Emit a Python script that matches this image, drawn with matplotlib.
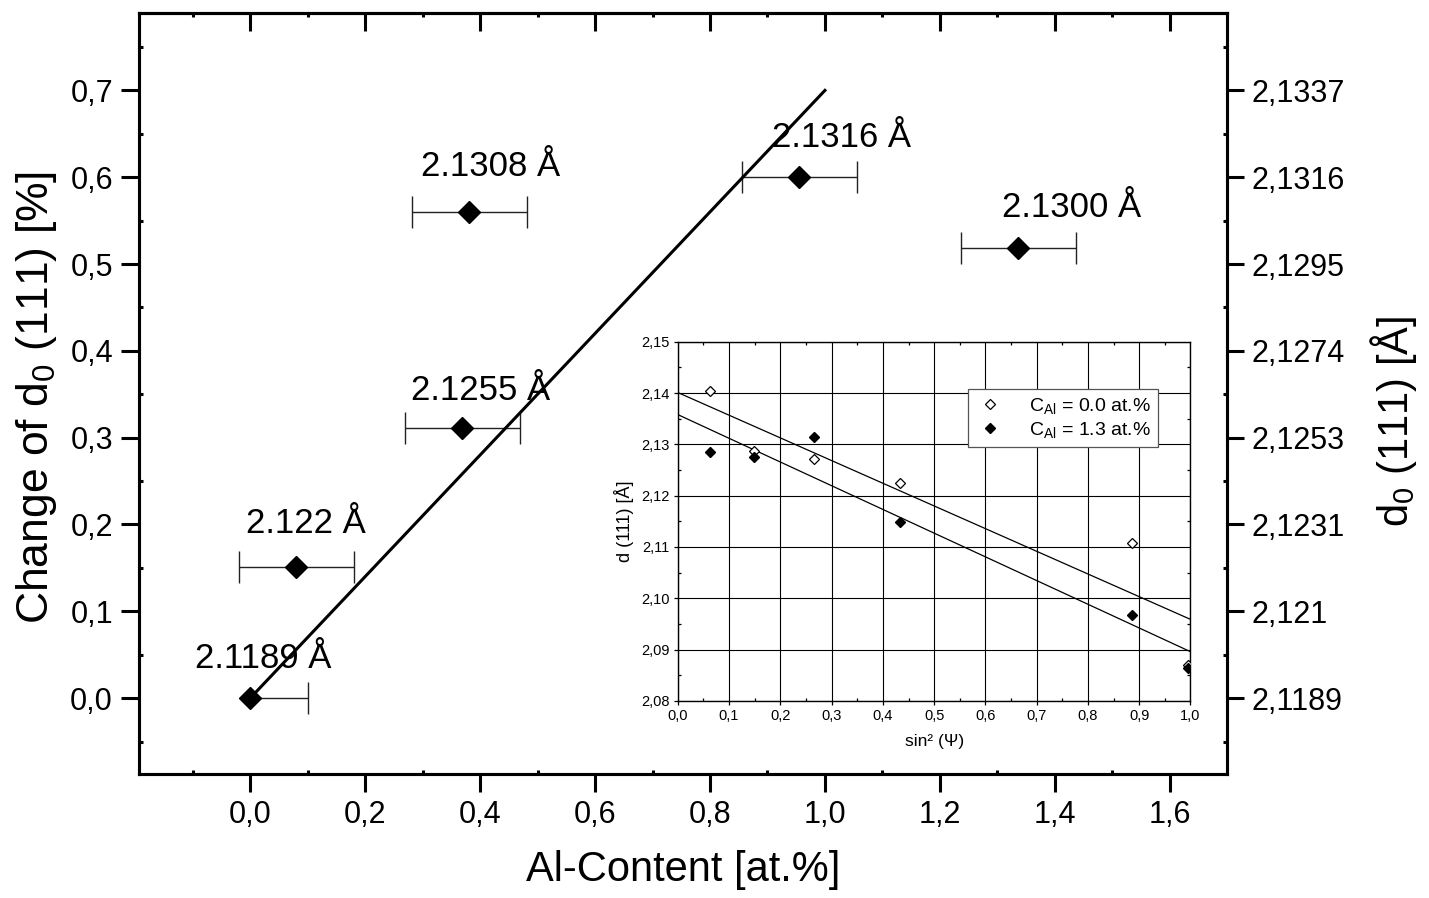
import matplotlib

matplotlib.use("Agg")
import matplotlib.pyplot as plt
from matplotlib.ticker import FuncFormatter, MultipleLocator

plt.rcParams["font.family"] = ["Liberation Sans", "DejaVu Sans"]
plt.rcParams["mathtext.fontset"] = "custom"
plt.rcParams["mathtext.rm"] = "Liberation Sans"
plt.rcParams["mathtext.it"] = "Liberation Sans:italic"

ANG = "\u00c5"

# main panel: Al content vs. change of d0(111)
al_content = [0.0, 0.08, 0.369, 0.381, 0.955, 1.336]
d0_change = [0.0, 0.151, 0.311, 0.56, 0.60, 0.519]
xerr_low = [0.0, 0.1, 0.1, 0.1, 0.1, 0.1]
xerr_high = [0.1, 0.1, 0.1, 0.1, 0.1, 0.1]
fit_x = [0.0, 1.0]
fit_y = [0.0, 0.70]

point_labels = ["2.1189 " + ANG, "2.122 " + ANG, "2.1255 " + ANG,
                "2.1308 " + ANG, "2.1316 " + ANG, "2.1300 " + ANG]
label_x = [0.023, 0.096, 0.40, 0.419, 1.029, 1.43]
label_y = [0.0345, 0.19, 0.343, 0.601, 0.635, 0.554]

y_ticks = [0.0, 0.1, 0.2, 0.3, 0.4, 0.5, 0.6, 0.7]
d0_tick_labels = ["2,1189", "2,121", "2,1231", "2,1253", "2,1274", "2,1295", "2,1316", "2,1337"]

# inset: sin^2(psi) plots
sin2psi = [0.063, 0.149, 0.265, 0.433, 0.886, 0.995]
d_al00 = [2.1404, 2.1288, 2.1271, 2.1225, 2.1107, 2.0870]
d_al13 = [2.1285, 2.1275, 2.1314, 2.1149, 2.0968, 2.0864]
fit_psi = [0.0, 1.0]
fit_al00 = [2.1401, 2.0959]
fit_al13 = [2.1358, 2.0896]

comma1 = FuncFormatter(lambda v, p: f"{v:.1f}".replace(".", ","))
comma2 = FuncFormatter(lambda v, p: f"{v:.2f}".replace(".", ","))

fig = plt.figure(figsize=(14.29, 8.98), dpi=100)
ax = fig.add_axes([0.0975, 0.138, 0.7609, 0.8474])

eb = ax.errorbar(al_content, d0_change, xerr=[xerr_low, xerr_high], fmt="D", color="black",
                 ms=10.7, ecolor="#222222", elinewidth=1.0, capsize=11.5, capthick=1.0, zorder=3)
# no cap on the left side of the first point (zero lower error)
for cap in eb[1]:
    if cap.get_xdata()[0] == al_content[0]:
        cap.set_markevery(list(range(1, len(al_content))))
ax.plot(fit_x, fit_y, color="black", lw=2.2, zorder=4)

for txt, tx, ty in zip(point_labels, label_x, label_y):
    ax.text(tx, ty, txt, fontsize=25, ha="center", va="baseline", zorder=5)

ax.set_xlim(-0.193, 1.699)
ax.set_ylim(-0.0875, 0.789)
ax.set_xticks([0.0, 0.2, 0.4, 0.6, 0.8, 1.0, 1.2, 1.4, 1.6])
ax.set_yticks(y_ticks)
ax.xaxis.set_minor_locator(MultipleLocator(0.1))
ax.yaxis.set_minor_locator(MultipleLocator(0.05))
ax.xaxis.set_major_formatter(comma1)
ax.yaxis.set_major_formatter(comma1)
ax.tick_params(which="major", direction="out", length=13, width=2.2, labelsize=22, pad=6)
ax.tick_params(which="minor", direction="in", length=3, width=2.2)
for sp in ax.spines.values():
    sp.set_linewidth(2.2)

ax.set_xlabel("Al-Content [at.%]", fontsize=30)
ax.xaxis.set_label_coords(0.5, -0.1)
ax.set_ylabel("Change of d$_0$ (111) [%]", fontsize=32)
ax.yaxis.set_label_coords(-0.074, 0.495)

top = ax.secondary_xaxis("top")
top.set_xticks([0.0, 0.2, 0.4, 0.6, 0.8, 1.0, 1.2, 1.4, 1.6])
top.xaxis.set_minor_locator(MultipleLocator(0.1))
top.tick_params(which="major", direction="in", length=13, width=2.2, labeltop=False)
top.tick_params(which="minor", direction="in", length=3, width=2.2)
top.spines["top"].set_linewidth(2.2)

axr = ax.twinx()
axr.set_ylim(ax.get_ylim())
axr.set_yticks(y_ticks)
axr.set_yticklabels(d0_tick_labels)
axr.yaxis.set_minor_locator(MultipleLocator(0.05))
axr.tick_params(which="major", direction="out", length=12, width=2.2, labelsize=22, pad=6)
axr.tick_params(which="minor", direction="in", length=3, width=2.2)
for sp in axr.spines.values():
    sp.set_linewidth(2.2)
axr.set_ylabel("d$_0$ (111) [" + ANG + "]", fontsize=30)
axr.yaxis.set_label_coords(1.13, 0.464)

# inset
ins = fig.add_axes([0.4743, 0.2194, 0.3588, 0.4001])
ins.plot(fit_psi, fit_al00, color="black", lw=0.9)
ins.plot(fit_psi, fit_al13, color="black", lw=0.9)
ins.plot(sin2psi, d_al00, "D", ms=4.8, mfc="white", mec="black", mew=0.9,
         label="C$_{\\mathrm{Al}}$ = 0.0 at.%", zorder=3)
ins.plot(sin2psi, d_al13, "D", ms=4.8, color="black",
         label="C$_{\\mathrm{Al}}$ = 1.3 at.%", zorder=3)
ins.set_xlim(0.0, 1.0)
ins.set_ylim(2.08, 2.15)
ins.set_xticks([0.0, 0.1, 0.2, 0.3, 0.4, 0.5, 0.6, 0.7, 0.8, 0.9, 1.0])
ins.set_yticks([2.08, 2.09, 2.10, 2.11, 2.12, 2.13, 2.14, 2.15])
ins.xaxis.set_minor_locator(MultipleLocator(0.05))
ins.yaxis.set_minor_locator(MultipleLocator(0.005))
ins.xaxis.set_major_formatter(comma1)
ins.yaxis.set_major_formatter(comma2)
ins.grid(True, which="major", color="black", lw=0.8)
ins.tick_params(which="major", direction="out", length=3, width=0.9, labelsize=10.5, pad=3)
ins.tick_params(which="minor", direction="in", length=2, width=0.9, top=True, right=True)
for sp in ins.spines.values():
    sp.set_linewidth(1.0)
ins.set_xlabel("sin² (Ψ)", fontsize=12.5, labelpad=8)
ins.set_ylabel("d (111) [" + ANG + "]", fontsize=13, labelpad=5)
leg = ins.legend(loc="upper right", bbox_to_anchor=(0.956, 0.895), fontsize=14, frameon=True,
                 fancybox=False, edgecolor="#555555", framealpha=1.0, handlelength=1.5,
                 handletextpad=1.3, borderpad=0.35, labelspacing=0.2)
leg.get_frame().set_linewidth(0.9)

fig.savefig("out.png", dpi=100)
